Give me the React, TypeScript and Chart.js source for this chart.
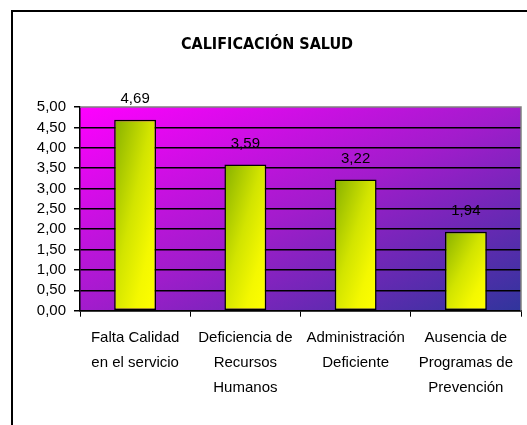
import React, { useEffect, useRef } from 'react';
import { Chart, registerables } from 'chart.js';

Chart.register(...registerables);

const chartTitle = 'CALIFICACIÓN SALUD';
const categories: string[][] = [
  ['Falta Calidad', 'en el servicio'],
  ['Deficiencia de', 'Recursos', 'Humanos'],
  ['Administración', 'Deficiente'],
  ['Ausencia de', 'Programas de', 'Prevención'],
];
const values: number[] = [4.69, 3.59, 3.22, 1.94];
const yMin = 0;
const yMax = 5;
const yStep = 0.5;

const BAR_PCT = 0.38;
const fmt = (v: number) => v.toFixed(2).replace('.', ',');
const TEXT_FONT = "'Liberation Sans', Arial, sans-serif";

function diagGradient(ctx: CanvasRenderingContext2D, l: number, t: number, r: number, b: number, stops: [number, string][]) {
  const w = Math.max(r - l, 1);
  const h = Math.max(b - t, 1);
  const a = (2 * w * h) / (w * w + h * h);
  const g = ctx.createLinearGradient(l, t, l + a * h, t + a * w);
  stops.forEach(([o, c]) => g.addColorStop(o, c));
  return g;
}

const framePlugin = {
  id: 'frame',
  beforeDraw(chart: any) {
    const { ctx, width, height, chartArea } = chart;
    ctx.save();
    ctx.fillStyle = '#ffffff';
    ctx.fillRect(0, 0, width, height);
    ctx.strokeStyle = '#000000';
    ctx.lineWidth = 2;
    ctx.beginPath();
    ctx.moveTo(12, height);
    ctx.lineTo(12, 11);
    ctx.lineTo(width, 11);
    ctx.stroke();
    const { left, top, right, bottom } = chartArea;
    ctx.fillStyle = diagGradient(ctx, left, top, right, bottom, [
      [0, '#ff00ff'],
      [0.5, '#a21ccc'],
      [1, '#30359c'],
    ]);
    ctx.fillRect(left, top, right - left, bottom - top);
    ctx.restore();
  },
  beforeDatasetsDraw(chart: any) {
    const { ctx, chartArea } = chart;
    const { left, top, right, bottom } = chartArea;
    ctx.save();
    ctx.strokeStyle = '#808080';
    ctx.lineWidth = 1.5;
    ctx.beginPath();
    ctx.moveTo(left, top);
    ctx.lineTo(right, top);
    ctx.lineTo(right, bottom);
    ctx.stroke();
    ctx.restore();
  },
  afterDatasetsDraw(chart: any) {
    const { ctx } = chart;
    const meta = chart.getDatasetMeta(0);
    ctx.save();
    ctx.fillStyle = '#000000';
    ctx.font = `15px ${TEXT_FONT}`;
    ctx.textAlign = 'center';
    ctx.textBaseline = 'middle';
    meta.data.forEach((el: any, i: number) => {
      ctx.fillText(fmt(values[i]), el.x, el.y - 21);
    });
    ctx.restore();
  },
};

export default function App() {
  const ref = useRef<HTMLCanvasElement>(null);
  useEffect(() => {
    document.body.style.margin = '0';
    const canvas = ref.current!;
    const chart = new Chart(canvas, {
      type: 'bar',
      data: {
        labels: categories,
        datasets: [
          {
            data: values,
            borderColor: '#000000',
            borderWidth: 1.5,
            borderSkipped: false,
            barPercentage: BAR_PCT,
            categoryPercentage: 1,
            backgroundColor: (c: any) => {
              const ch = c.chart;
              const xs = ch.scales?.x;
              const ys = ch.scales?.y;
              if (!ch.chartArea || !xs || !ys || c.raw == null) return '#ffff00';
              const cx = xs.getPixelForValue(c.dataIndex);
              const w = (xs.width / categories.length) * BAR_PCT;
              const top = ys.getPixelForValue(c.raw);
              const bottom = ys.getPixelForValue(0);
              return diagGradient(ch.ctx, cx - w / 2, top, cx + w / 2, bottom, [
                [0, '#86b000'],
                [0.45, '#d2e400'],
                [0.75, '#f4f800'],
                [1, '#ffff00'],
              ]);
            },
          },
        ],
      },
      options: {
        animation: false,
        responsive: false,
        devicePixelRatio: 1,
        layout: { padding: { left: 13, right: 6, top: 0, bottom: 0 } },
        plugins: {
          legend: { display: false },
          tooltip: { enabled: false },
          title: {
            display: true,
            text: chartTitle,
            color: '#000000',
            font: { family: "'Liberation Sans Narrow', 'DejaVu Sans Condensed', sans-serif", size: 16, weight: 'bold', lineHeight: 1.2 },
            padding: { top: 35.4, bottom: 52.4 },
          },
        },
        scales: {
          x: {
            offset: true,
            grid: {
              display: true,
              offset: true,
              drawOnChartArea: false,
              drawTicks: true,
              tickLength: 6,
              color: '#000000',
              tickColor: '#000000',
            },
            border: { display: true, color: '#000000', width: 1.5 },
            ticks: {
              color: '#000000',
              padding: 9,
              maxRotation: 0,
              minRotation: 0,
              autoSkip: false,
              font: { family: TEXT_FONT, size: 15, lineHeight: 25 / 15 },
            },
            afterFit: (s: any) => {
              s.height = 114.3;
            },
          },
          y: {
            min: yMin,
            max: yMax,
            grid: {
              color: (c: any) => (c.tick && c.tick.value === yMax ? 'rgba(0,0,0,0)' : '#000000'),
              tickColor: '#000000',
              tickLength: 6,
              lineWidth: 1.5,
            },
            border: { display: true, color: '#000000', width: 1.5 },
            ticks: {
              stepSize: yStep,
              autoSkip: false,
              color: '#000000',
              padding: 8,
              font: { family: TEXT_FONT, size: 15, lineHeight: 1 },
              callback: (v: any) => fmt(Number(v)),
            },
            afterFit: (s: any) => {
              s.width = 67;
            },
          },
        },
      },
      plugins: [framePlugin],
    });
    return () => chart.destroy();
  }, []);
  return (
    <div style={{ position: 'fixed', left: 0, top: 0, width: 527, height: 425 }}>
      <canvas ref={ref} width={527} height={425} style={{ display: 'block' }} />
    </div>
  );
}
